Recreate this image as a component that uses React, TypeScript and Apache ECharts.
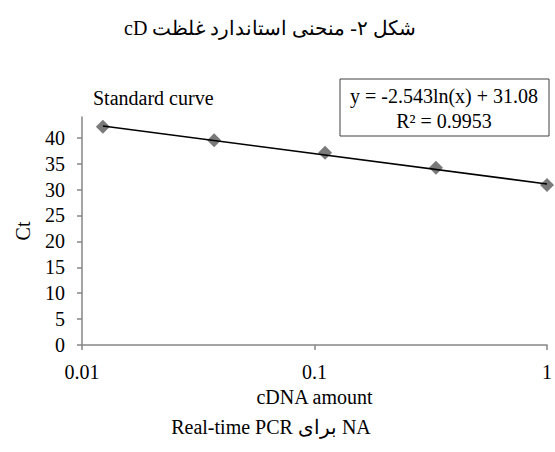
import React, { useEffect, useRef } from "react";
import * as echarts from "echarts";

const cdnaAmount = [0.0123, 0.037, 0.111, 0.333, 1];
const ctValues = [42.1, 39.5, 37.1, 34.2, 30.9];
const trendX = [0.0123, 1];
const trendY = [42.27, 31.08];
const yTicks = [0, 5, 10, 15, 20, 25, 30, 35, 40];

const titleText = "\u202Bشکل ۲- منحنی استاندارد غلظت cD\u202C";
const captionText = "\u202BNA برای Real-time PCR\u202C";
const chartLabel = "Standard curve";
const equationText = "y = -2.543ln(x) + 31.08";
const r2Text = "R² = 0.9953";

const FAM = "Liberation Serif";
const FS = 20;

export default function App() {
  const ref = useRef<HTMLDivElement>(null);
  useEffect(() => {
    if (!ref.current) return;
    const chart = echarts.init(ref.current, null, { renderer: "svg" });
    const serifText = { fontFamily: FAM, fontSize: FS, color: "#000", fontWeight: "normal" as const };
    chart.setOption({
      animation: false,
      backgroundColor: "#ffffff",
      textStyle: { fontFamily: FAM },
      grid: { left: 82, right: 8, top: 117, bottom: 107, containLabel: false },
      xAxis: {
        type: "log",
        logBase: 10,
        min: 0.01,
        max: 1,
        name: "cDNA amount",
        nameLocation: "middle",
        nameGap: 41,
        nameTextStyle: serifText,
        axisLine: { lineStyle: { color: "#868686", width: 1.5 } },
        axisTick: { show: true, length: 5, lineStyle: { color: "#868686", width: 1.5 } },
        minorTick: { show: false },
        splitLine: { show: false },
        axisLabel: {
          margin: 17,
          formatter: (v: number) => `{s|${v}}`,
          rich: { s: serifText },
        },
      },
      yAxis: {
        type: "value",
        min: 0,
        max: 44,
        interval: 5,
        name: "Ct",
        nameLocation: "middle",
        nameGap: 49,
        nameRotate: 90,
        nameTextStyle: serifText,
        axisLine: { show: true, lineStyle: { color: "#868686", width: 1.5 } },
        axisTick: { show: true, length: 5, customValues: yTicks, lineStyle: { color: "#868686", width: 1.5 } },
        splitLine: { show: false },
        axisLabel: {
          margin: 17,
          customValues: yTicks,
          formatter: (v: number) => `{s|${v}}`,
          rich: { s: serifText },
        },
      },
      series: [
        {
          type: "scatter",
          data: cdnaAmount.map((x, i) => [x, ctValues[i]]),
          symbol: "diamond",
          symbolSize: [14, 14],
          itemStyle: { color: "#595959" },
          clip: false,
          z: 2,
        },
        {
          type: "line",
          data: trendX.map((x, i) => [x, trendY[i]]),
          showSymbol: false,
          symbol: "none",
          clip: false,
          lineStyle: { color: "#000", width: 1.6 },
          z: 3,
        },
      ],
      graphic: [
        {
          type: "text",
          x: 270,
          y: 28,
          style: { text: titleText, fontFamily: FAM, fontSize: FS, fill: "#000", align: "center", verticalAlign: "middle" },
        },
        {
          type: "text",
          x: 271,
          y: 427,
          style: { text: captionText, fontFamily: FAM, fontSize: FS, fill: "#000", align: "center", verticalAlign: "middle" },
        },
        {
          type: "text",
          x: 93,
          y: 98,
          style: { text: chartLabel, fontFamily: FAM, fontSize: FS, fill: "#000", align: "left", verticalAlign: "middle" },
        },
        {
          type: "rect",
          shape: { x: 340, y: 79, width: 209, height: 57 },
          style: { fill: "#fff", stroke: "#404040", lineWidth: 1 },
          z: 10,
        },
        {
          type: "text",
          x: 444,
          y: 96,
          style: { text: equationText, fontFamily: FAM, fontSize: FS, fill: "#000", align: "center", verticalAlign: "middle" },
          z: 11,
        },
        {
          type: "text",
          x: 444,
          y: 121,
          style: { text: r2Text, fontFamily: FAM, fontSize: FS, fill: "#000", align: "center", verticalAlign: "middle" },
          z: 11,
        },
      ],
    });
    return () => chart.dispose();
  }, []);
  return <div ref={ref} style={{ width: 555, height: 452, position: "fixed", left: 0, top: 0 }} />;
}
